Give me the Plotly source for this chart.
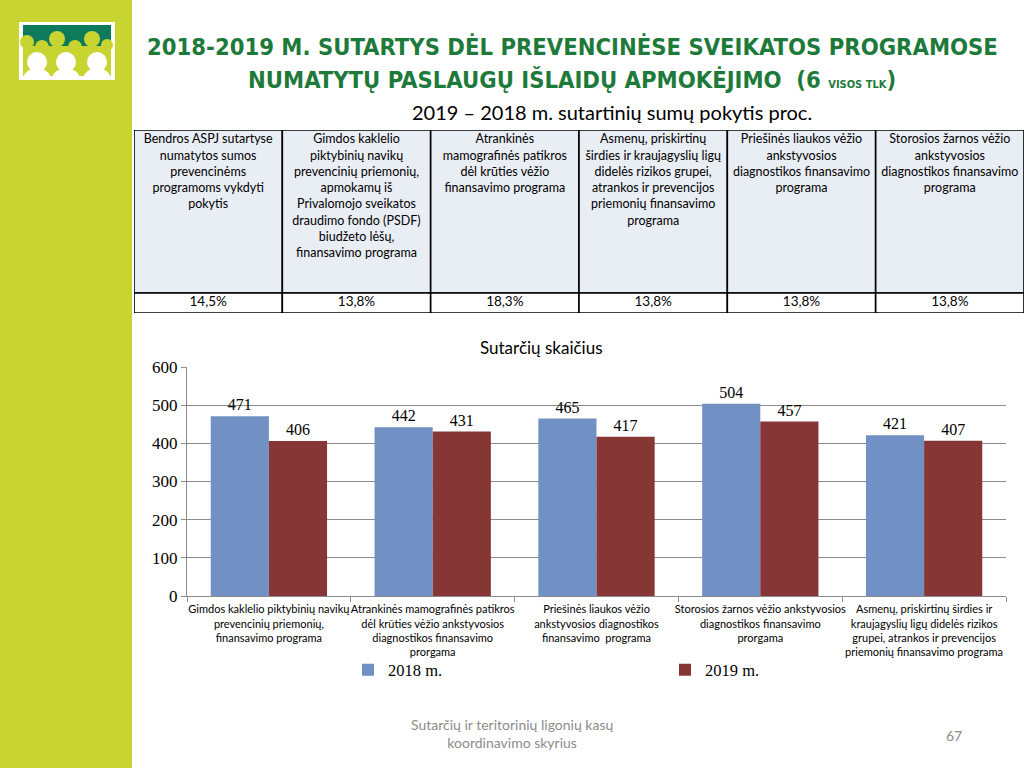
import plotly.graph_objects as go

W, H = 1024, 768

# ---- data ----
title_line1 = "2018-2019 M. SUTARTYS DĖL PREVENCINĖSE SVEIKATOS PROGRAMOSE"
title_line2 = "NUMATYTŲ PASLAUGŲ IŠLAIDŲ APMOKĖJIMO  (6 <span style='font-size:11px'>VISOS TLK</span>)"
subtitle = "2019 – 2018 m. sutartinių sumų pokytis proc."

table_headers = [
    "Bendros ASPJ sutartyse<br>numatytos sumos<br>prevencinėms<br>programoms vykdyti<br>pokytis",
    "Gimdos kaklelio<br>piktybinių navikų<br>prevencinių priemonių,<br>apmokamų iš<br>Privalomojo sveikatos<br>draudimo fondo (PSDF)<br>biudžeto lėšų,<br>finansavimo programa",
    "Atrankinės<br>mamografinės patikros<br>dėl krūties vėžio<br>finansavimo programa",
    "Asmenų, priskirtinų<br>širdies ir kraujagyslių ligų<br>didelės rizikos grupei,<br>atrankos ir prevencijos<br>priemonių finansavimo<br>programa",
    "Priešinės liaukos vėžio<br>ankstyvosios<br>diagnostikos finansavimo<br>programa",
    "Storosios žarnos vėžio<br>ankstyvosios<br>diagnostikos finansavimo<br>programa",
]
table_values = ["14,5%", "13,8%", "18,3%", "13,8%", "13,8%", "13,8%"]

chart_title = "Sutarčių skaičius"
categories = [
    "Gimdos kaklelio piktybinių navikų<br>prevencinių priemonių,<br>finansavimo programa",
    "Atrankinės mamografinės patikros<br>dėl krūties vėžio ankstyvosios<br>diagnostikos finansavimo<br>prorgama",
    "Priešinės liaukos vėžio<br>ankstyvosios diagnostikos<br>finansavimo  programa",
    "Storosios žarnos vėžio ankstyvosios<br>diagnostikos finansavimo<br>prorgama",
    "Asmenų, priskirtinų širdies ir<br>kraujagyslių ligų didelės rizikos<br>grupei, atrankos ir prevencijos<br>priemonių finansavimo programa",
]
series_names = ["2018 m.", "2019 m."]
values_2018 = [471, 442, 465, 504, 421]
values_2019 = [406, 431, 417, 457, 407]
y_ticks = [0, 100, 200, 300, 400, 500, 600]

footer_text = "Sutarčių ir teritorinių ligonių kasų<br>koordinavimo skyrius"
page_no = "67"

# ---- styles ----
SIDE_GREEN = "#C8D430"
DARK_GREEN = "#0E7A5C"
TITLE_GREEN = "#1E7A3A"
BLUE = "#7191C4"
RED = "#853635"
HEADER_FILL = "#E9EDF4"
GRID = "#8C8C8C"
SERIF = "Liberation Serif, Times New Roman, serif"
SANS = "Lato, Carlito, Calibri, sans-serif"
NARROW = "Liberation Sans Narrow, DejaVu Sans Condensed, Arial Narrow, sans-serif"

# table geometry (in table-axis units: columns of width 1, rows in px)
HEADER_H = 163
ROW_H = 20


def px(x):
    return x / W


def py(y):
    return (H - y) / H


fig = go.Figure()

ncol = len(table_headers)
col_centers = [i + 0.5 for i in range(ncol)]

# table header text and values (on table axes x2/y2)
fig.add_trace(go.Scatter(x=col_centers, y=[4] * ncol, text=table_headers, mode="text",
                         textposition="bottom center", xaxis="x2", yaxis="y2",
                         textfont=dict(family=SANS, size=12.5, color="black"),
                         hoverinfo="skip", showlegend=False, cliponaxis=False))
fig.add_trace(go.Scatter(x=col_centers, y=[HEADER_H + ROW_H / 2] * ncol, text=table_values,
                         mode="text", textposition="middle center", xaxis="x2", yaxis="y2",
                         textfont=dict(family=SANS, size=13.5, color="black"),
                         hoverinfo="skip", showlegend=False, cliponaxis=False))

fig.add_trace(go.Bar(x=categories, y=values_2018, name=series_names[0],
                     marker=dict(color=BLUE, line=dict(width=0)), text=values_2018,
                     textposition="outside",
                     textfont=dict(family=SERIF, size=16, color="black"),
                     cliponaxis=False))
fig.add_trace(go.Bar(x=categories, y=values_2019, name=series_names[1],
                     marker=dict(color=RED, line=dict(width=0)), text=values_2019,
                     textposition="outside",
                     textfont=dict(family=SERIF, size=16, color="black"),
                     cliponaxis=False))

shapes = [
    dict(type="rect", xref="paper", yref="paper", x0=0, x1=px(132), y0=0, y1=1,
         fillcolor=SIDE_GREEN, line_width=0, layer="below"),
    # logo
    dict(type="rect", xref="paper", yref="paper", x0=px(19), x1=px(115), y0=py(80), y1=py(22),
         fillcolor="white", line_width=0),
    dict(type="rect", xref="paper", yref="paper", x0=px(23), x1=px(111), y0=py(76), y1=py(25),
         fillcolor=SIDE_GREEN, line_width=0),
    dict(type="rect", xref="paper", yref="paper", x0=px(23), x1=px(111), y0=py(46), y1=py(25),
         fillcolor=DARK_GREEN, line_width=0),
]
for cx, cy, r in [(27, 42, 7), (42, 47, 7), (57, 39, 8), (75, 47, 7), (92, 39, 8), (107, 45, 6)]:
    shapes.append(dict(type="circle", xref="paper", yref="paper",
                       x0=px(cx - r), x1=px(cx + r), y0=py(cy + r), y1=py(cy - r),
                       fillcolor=SIDE_GREEN, line_width=0))
for cx in [37, 66, 97]:
    shapes.append(dict(type="circle", xref="paper", yref="paper",
                       x0=px(cx - 14), x1=px(cx + 14), y0=py(92), y1=py(68),
                       fillcolor="white", line_width=0))
    shapes.append(dict(type="circle", xref="paper", yref="paper",
                       x0=px(cx - 10), x1=px(cx + 10), y0=py(72), y1=py(52),
                       fillcolor="white", line_width=0))
shapes.append(dict(type="rect", xref="paper", yref="paper", x0=px(19), x1=px(115), y0=py(95), y1=py(80),
                   fillcolor=SIDE_GREEN, line_width=0))

# table cells
for i in range(ncol):
    shapes.append(dict(type="rect", xref="x2", yref="y2", x0=i, x1=i + 1, y0=0, y1=HEADER_H,
                       fillcolor=HEADER_FILL, line=dict(color="black", width=1.6), layer="below"))
    shapes.append(dict(type="rect", xref="x2", yref="y2", x0=i, x1=i + 1, y0=HEADER_H,
                       y1=HEADER_H + ROW_H, fillcolor="white",
                       line=dict(color="black", width=1.6), layer="below"))

annotations = [
    dict(text="<b>" + title_line1 + "</b>", x=px(572), y=py(47), xref="paper", yref="paper",
         xanchor="center", yanchor="middle",
         showarrow=False, font=dict(family=NARROW, size=23.6, color=TITLE_GREEN)),
    dict(text="<b>" + title_line2 + "</b>", x=px(572), y=py(80), xref="paper", yref="paper",
         xanchor="center", yanchor="middle",
         showarrow=False, font=dict(family=NARROW, size=23.6, color=TITLE_GREEN)),
    dict(text=subtitle, x=px(612), y=py(112), xref="paper", yref="paper",
         xanchor="center", yanchor="middle",
         showarrow=False, font=dict(family=SANS, size=20, color="black")),
    dict(text=chart_title, x=px(541), y=py(347), xref="paper", yref="paper",
         xanchor="center", yanchor="middle",
         showarrow=False, font=dict(family=SANS, size=17, color="black")),
    dict(text=footer_text, x=px(512), y=py(733), xref="paper", yref="paper",
         xanchor="center", yanchor="middle",
         showarrow=False, font=dict(family=SANS, size=14, color="#8C8C8C")),
    dict(text=page_no, x=px(954), y=py(735), xref="paper", yref="paper",
         xanchor="center", yanchor="middle",
         showarrow=False, font=dict(family=SANS, size=14, color="#8C8C8C")),
]

fig.update_layout(
    template="none",
    width=W, height=H, margin=dict(l=0, r=0, t=0, b=0, pad=0, autoexpand=False),
    paper_bgcolor="white", plot_bgcolor="white",
    font=dict(family=SANS, color="black"),
    barmode="group", bargap=0.29, bargroupgap=0,
    shapes=shapes, annotations=annotations,
    xaxis=dict(domain=[px(187), px(1006)], showline=True, linecolor=GRID, linewidth=1,
               ticks="outside", tickson="boundaries", ticklen=5, tickcolor=GRID,
               tickfont=dict(family=SANS, size=11, color="black"), tickangle=0,
               ticklabelstandoff=3,
               showgrid=False, zeroline=False, automargin=False, fixedrange=True),
    yaxis=dict(domain=[py(596), py(367)], range=[0, 600], tickvals=y_ticks,
               showline=True, linecolor=GRID, linewidth=1, showgrid=True, gridcolor=GRID,
               gridwidth=1, ticks="outside", ticklen=5, tickcolor=GRID, zeroline=False,
               tickfont=dict(family=SERIF, size=17, color="black"), automargin=False,
               fixedrange=True),
    xaxis2=dict(domain=[px(134), 1.0], range=[0, ncol], visible=False, fixedrange=True,
                automargin=False),
    yaxis2=dict(domain=[py(313), py(130)], range=[HEADER_H + ROW_H, 0], visible=False,
                fixedrange=True, automargin=False),
    legend=dict(orientation="h", x=px(348), y=py(670), xanchor="left", yanchor="middle",
                font=dict(family=SERIF, size=16.5, color="black"),
                entrywidth=272, entrywidthmode="pixels", bgcolor="rgba(0,0,0,0)",
                borderwidth=0),
    showlegend=True,
)

fig.write_html("out.html", config={"displayModeBar": False},
               post_script="document.body.style.margin='0';")
